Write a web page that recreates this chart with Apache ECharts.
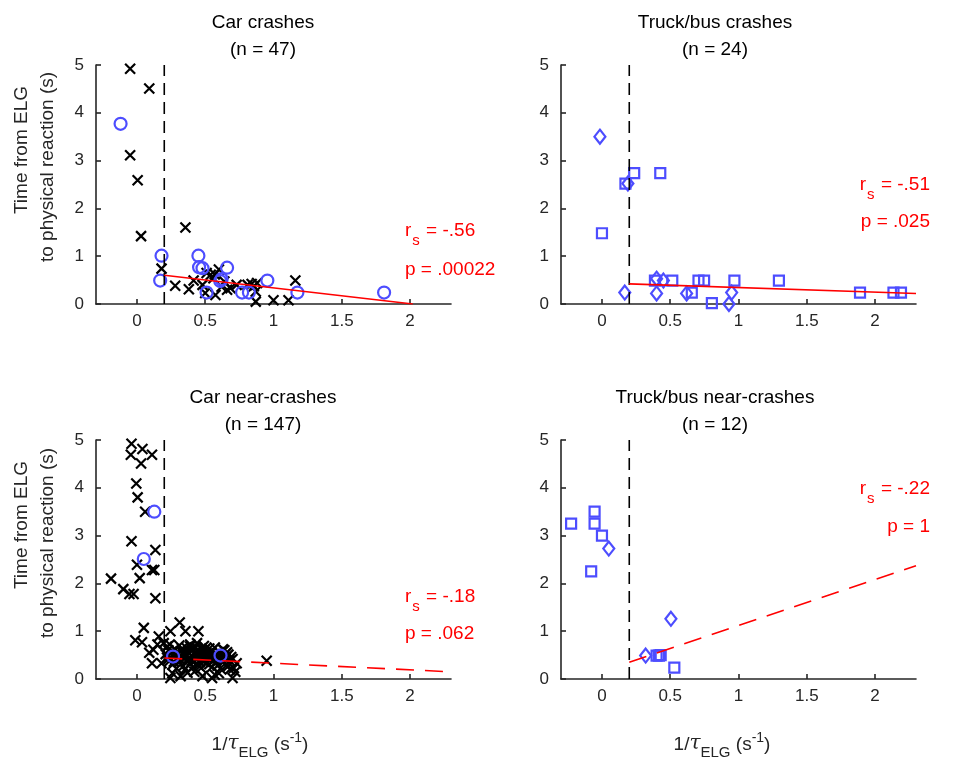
<!DOCTYPE html>
<html>
<head>
<meta charset="utf-8">
<script src="https://cdn.jsdelivr.net/npm/echarts@6/dist/echarts.min.js"></script>
<style>
html, body { margin: 0; padding: 0; background: #fff; }
#chart { width: 957px; height: 764px; }
</style>
</head>
<body>
<div id="chart"></div>
<script>
// tick labels shared by all four panels
var xTicks = [0, 0.5, 1, 1.5, 2];
var yTicks = [0, 1, 2, 3, 4, 5];
var elgLine = 0.2;

// Car crashes (n = 47)
var carCrashCross = [
	[-0.05, 4.92], [0.09, 4.51], [-0.05, 3.11], [0.005, 2.59], [0.03, 1.42], [0.355, 1.60],
	[0.18, 0.74], [0.28, 0.38], [0.38, 0.31], [0.415, 0.49], [0.48, 0.40], [0.50, 0.23],
	[0.575, 0.19], [0.54, 0.61], [0.60, 0.72], [0.56, 0.54], [0.64, 0.47], [0.685, 0.33],
	[0.73, 0.40], [0.81, 0.40], [0.856, 0.37], [0.88, 0.44], [0.87, 0.26], [0.87, 0.05],
	[1.0, 0.08], [1.11, 0.08], [1.16, 0.49], [0.51, 0.65], [0.66, 0.30], [0.57, 0.62],
	[0.62, 0.36], [0.84, 0.42]
];
var carCrashCircle = [
	[-0.12, 3.77], [0.18, 1.01], [0.17, 0.49], [0.45, 1.01], [0.455, 0.77], [0.48, 0.75],
	[0.66, 0.76], [0.62, 0.52], [0.61, 0.48], [0.51, 0.24], [0.77, 0.24], [0.82, 0.24],
	[0.955, 0.49], [1.175, 0.24], [1.81, 0.24]
];
var carCrashFit = [[0.2, 0.6], [2.02, 0]];

// Truck/bus crashes (n = 24)
var truckCrashSquare = [
	[0.236, 2.74], [0.427, 2.74], [0.0, 1.48], [0.388, 0.49], [0.515, 0.49], [0.707, 0.49],
	[0.748, 0.49], [0.97, 0.49], [1.296, 0.49], [0.658, 0.24], [0.805, 0.02], [1.89, 0.24],
	[2.135, 0.24], [2.19, 0.24], [0.172, 2.52]
];
var truckCrashDiamond = [
	[-0.015, 3.50], [0.19, 2.52], [0.167, 0.24], [0.40, 0.53], [0.45, 0.49], [0.40, 0.22],
	[0.62, 0.22], [0.95, 0.24], [0.93, 0.0]
];
var truckCrashFit = [[0.2, 0.42], [2.3, 0.22]];

// Car near-crashes (n = 147)
var carNearCross = [
	[-0.04, 4.92], [-0.045, 4.69], [0.04, 4.81], [0.11, 4.69], [0.03, 4.51], [-0.005, 4.09],
	[0.005, 3.80], [0.06, 3.50], [-0.04, 2.88], [0.135, 2.70], [0.0, 2.39], [0.02, 2.11],
	[-0.19, 2.10], [-0.10, 1.88], [-0.055, 1.78], [-0.025, 1.78], [0.11, 2.28], [0.127, 2.28],
	[0.135, 1.69], [0.05, 1.07], [-0.012, 0.81], [0.037, 0.77], [0.11, 0.33], [0.16, 0.89],
	[0.12, 0.61], [0.09, 0.55], [0.15, 0.72],
	[0.245, 1.0], [0.313, 1.18], [0.355, 1.0], [0.45, 1.0], [0.245, 0.02], [0.32, 0.06],
	[0.37, 0.13], [0.48, 0.06], [0.55, 0.02], [0.57, 0.09], [0.70, 0.02], [0.71, 0.23],
	[0.73, 0.33], [0.95, 0.38], [0.44, 0.75], [0.39, 0.68], [0.196, 0.75], [0.18, 0.33],
	[0.21, 0.52], [0.22, 0.45], [0.23, 0.60], [0.24, 0.38], [0.25, 0.55], [0.26, 0.30],
	[0.27, 0.48], [0.28, 0.62], [0.29, 0.41], [0.30, 0.53], [0.31, 0.35], [0.32, 0.58],
	[0.33, 0.46], [0.34, 0.27], [0.35, 0.51], [0.36, 0.66], [0.37, 0.40], [0.38, 0.55],
	[0.39, 0.32], [0.40, 0.48], [0.41, 0.61], [0.42, 0.37], [0.43, 0.52], [0.44, 0.44],
	[0.45, 0.29], [0.46, 0.57], [0.47, 0.42], [0.48, 0.50], [0.49, 0.36], [0.50, 0.63],
	[0.51, 0.45], [0.52, 0.54], [0.53, 0.31], [0.54, 0.47], [0.55, 0.59], [0.56, 0.39],
	[0.57, 0.52], [0.58, 0.43], [0.59, 0.28], [0.60, 0.56], [0.61, 0.41], [0.62, 0.49],
	[0.63, 0.35], [0.64, 0.60], [0.65, 0.44], [0.66, 0.30], [0.67, 0.51], [0.68, 0.38],
	[0.69, 0.46], [0.70, 0.42], [0.22, 0.68], [0.24, 0.72], [0.27, 0.36], [0.29, 0.22],
	[0.31, 0.70], [0.33, 0.63], [0.35, 0.20], [0.37, 0.57], [0.39, 0.72], [0.41, 0.25],
	[0.43, 0.67], [0.45, 0.50], [0.47, 0.23], [0.49, 0.69], [0.51, 0.33], [0.53, 0.64],
	[0.55, 0.25], [0.57, 0.66], [0.59, 0.50], [0.61, 0.22], [0.63, 0.62], [0.65, 0.53],
	[0.67, 0.27], [0.23, 0.42], [0.26, 0.58], [0.28, 0.50], [0.30, 0.44], [0.32, 0.40],
	[0.34, 0.56], [0.36, 0.46], [0.38, 0.43], [0.40, 0.38], [0.42, 0.54], [0.44, 0.59],
	[0.46, 0.35], [0.48, 0.60], [0.50, 0.40], [0.52, 0.47], [0.54, 0.55], [0.56, 0.48],
	[0.58, 0.36], [0.60, 0.45], [0.62, 0.40], [0.64, 0.47], [0.66, 0.56], [0.68, 0.20],
	[0.72, 0.15], [0.26, 0.12], [0.42, 0.15], [0.60, 0.12]
];
var carNearCircle = [[0.127, 3.50], [0.05, 2.51], [0.264, 0.47], [0.612, 0.49]];
var carNearFit = [[0.2, 0.44], [2.3, 0.15]];

// Truck/bus near-crashes (n = 12)
var truckNearSquare = [
	[-0.226, 3.25], [-0.054, 3.50], [-0.054, 3.25], [0.0, 3.0], [-0.079, 2.25],
	[0.40, 0.49], [0.417, 0.49], [0.43, 0.50], [0.53, 0.24]
];
var truckNearDiamond = [[0.05, 2.73], [0.505, 1.26], [0.32, 0.49]];
var truckNearFit = [[0.2, 0.35], [2.3, 2.37]];

var titles = ['Car crashes\n(n = 47)', 'Truck/bus crashes\n(n = 24)', 'Car near-crashes\n(n = 147)', 'Truck/bus near-crashes\n(n = 12)'];
var rsLabels = ['-.56', '-.51', '-.18', '-.22'];
var pLabels = ['.00022', '.025', '.062', '1'];

var FONT = 'Liberation Sans, Arial, sans-serif';
var INK = '#262626';
var BLUE = '#4d4dff';
var CROSS = 'path://M0,0L10,10M10,0L0,10';

var grids = [
	{ left: 96, top: 65, width: 355, height: 239 },
	{ left: 561, top: 65, width: 355, height: 239 },
	{ left: 96, top: 440, width: 355, height: 239 },
	{ left: 561, top: 440, width: 355, height: 239 }
];

function xAxis(i) {
	return {
		gridIndex: i, type: 'value', min: -0.3, max: 2.3,
		axisLine: { show: true, onZero: false, lineStyle: { color: INK, width: 1.6 } },
		axisTick: { show: true, inside: true, length: 5, customValues: xTicks, lineStyle: { color: INK, width: 1.6 } },
		axisLabel: { customValues: xTicks, color: INK, fontSize: 17, fontFamily: FONT, margin: 9 },
		splitLine: { show: false }
	};
}
function yAxis(i) {
	return {
		gridIndex: i, type: 'value', min: 0, max: 5,
		axisLine: { show: true, onZero: false, lineStyle: { color: INK, width: 1.6 } },
		axisTick: { show: true, inside: true, length: 5, customValues: yTicks, lineStyle: { color: INK, width: 1.6 } },
		axisLabel: { customValues: yTicks, color: INK, fontSize: 17, fontFamily: FONT, margin: 12 },
		splitLine: { show: false }
	};
}

function scatter(i, data, symbol, size, color) {
	return {
		type: 'scatter', xAxisIndex: i, yAxisIndex: i, data: data,
		symbol: symbol, symbolSize: size, silent: true,
		itemStyle: { color: 'rgba(0,0,0,0)', borderColor: color, borderWidth: 2.2, opacity: 1 }
	};
}
function line(i, data, color, dash) {
	return {
		type: 'line', xAxisIndex: i, yAxisIndex: i, data: data, symbol: 'none', silent: true,
		lineStyle: { color: color, width: 1.6, type: dash }
	};
}
function elg(i) {
	return line(i, [[elgLine, 0], [elgLine, 5]], '#000', [12, 7]);
}

var series = [
	elg(0),
	scatter(0, carCrashCross, CROSS, 10, '#000'),
	scatter(0, carCrashCircle, 'circle', 12, BLUE),
	line(0, carCrashFit, '#ff0000', 'solid'),

	elg(1),
	scatter(1, truckCrashSquare, 'rect', 10, BLUE),
	scatter(1, truckCrashDiamond, 'diamond', [11, 14], BLUE),
	line(1, truckCrashFit, '#ff0000', 'solid'),

	elg(2),
	scatter(2, carNearCross, CROSS, 10, '#000'),
	scatter(2, carNearCircle, 'circle', 12, BLUE),
	line(2, carNearFit, '#ff0000', [18, 11]),

	elg(3),
	scatter(3, truckNearSquare, 'rect', 10, BLUE),
	scatter(3, truckNearDiamond, 'diamond', [11, 14], BLUE),
	line(3, truckNearFit, '#ff0000', [18, 11])
];

// text placement for each panel
var titleX = [258, 710, 258, 710];
var titleY = [4, 4, 379, 379];
var statPos = [
	{ x: 405, r: 221, p: 260, align: 'left' },
	{ x: 930, r: 175, p: 212, align: 'right' },
	{ x: 405, r: 587, p: 624, align: 'left' },
	{ x: 930, r: 479, p: 517, align: 'right' }
];

var graphic = [];
for (var i = 0; i < 4; i++) {
	var s = statPos[i];
	graphic.push({
		type: 'text', x: s.x, y: s.r, silent: true,
		style: {
			text: '{m|r}{sub|s}{m| = ' + rsLabels[i] + '}',
			align: s.align, verticalAlign: 'top',
			rich: {
				m: { fontSize: 19, fontFamily: FONT, fill: '#ff0000', verticalAlign: 'top', lineHeight: 22 },
				sub: { fontSize: 15, fontFamily: FONT, fill: '#ff0000', verticalAlign: 'top', lineHeight: 22, padding: [12, 1, 0, 1] }
			}
		}
	});
	graphic.push({
		type: 'text', x: s.x, y: s.p, silent: true,
		style: { text: 'p = ' + pLabels[i], align: s.align, verticalAlign: 'top', fontSize: 19, fontFamily: FONT, fill: '#ff0000' }
	});
}
[260, 722].forEach(function(cx) {
	graphic.push({
		type: 'text', x: cx, y: 731, silent: true,
		style: {
			text: '{m|1/}{t|τ}{sub|ELG}{m| (s}{sup|-1}{m|)}',
			align: 'center', verticalAlign: 'top',
			rich: {
				m: { fontSize: 19, fontFamily: FONT, fill: INK, verticalAlign: 'top', padding: [4, 0, 0, 0] },
				t: { fontSize: 20, fontFamily: 'DejaVu Serif, serif', fontStyle: 'italic', fill: INK, verticalAlign: 'top', padding: [3, 0, 0, 0] },
				sub: { fontSize: 15, fontFamily: FONT, fill: INK, verticalAlign: 'top', padding: [14, 0, 0, 0] },
				sup: { fontSize: 14, fontFamily: FONT, fill: INK, verticalAlign: 'top', padding: [0, 0, 0, 0] }
			}
		}
	});
});
[[150, 167], [525, 543]].forEach(function(cy) {
	graphic.push({
		type: 'text', x: 22, y: cy[0], rotation: Math.PI / 2, silent: true,
		style: { text: 'Time from ELG', align: 'center', verticalAlign: 'middle', fontSize: 19, fontFamily: FONT, fill: INK }
	});
	graphic.push({
		type: 'text', x: 48, y: cy[1], rotation: Math.PI / 2, silent: true,
		style: { text: 'to physical reaction (s)', align: 'center', verticalAlign: 'middle', fontSize: 19, fontFamily: FONT, fill: INK }
	});
});

var chart = echarts.init(document.getElementById('chart'));
chart.setOption({
	animation: false,
	backgroundColor: '#fff',
	title: titles.map(function(t, i) {
		return {
			text: t, left: titleX[i], top: titleY[i], textAlign: 'center',
			textStyle: { fontSize: 19, fontWeight: 'normal', color: '#000', fontFamily: FONT, lineHeight: 27 }
		};
	}),
	grid: grids,
	xAxis: [0, 1, 2, 3].map(xAxis),
	yAxis: [0, 1, 2, 3].map(yAxis),
	series: series,
	graphic: graphic
});
</script>
</body>
</html>
